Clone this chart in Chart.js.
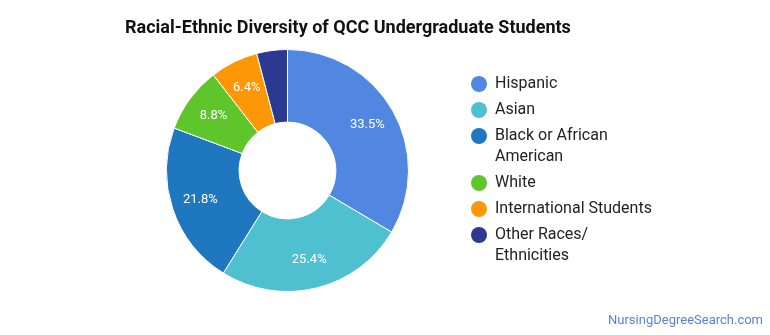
<!DOCTYPE html>
<html>
<head>
<meta charset="utf-8">
<script src="https://cdn.jsdelivr.net/npm/chart.js@4.4.1/dist/chart.umd.min.js"></script>
<style>
  html, body { margin: 0; padding: 0; background: #fff; }
  #wrap { width: 770px; height: 335px; position: relative; }
</style>
</head>
<body>
<div id="wrap"><canvas id="diversityChart" width="770" height="335"></canvas></div>
<script>
const chartTitle = 'Racial-Ethnic Diversity of QCC Undergraduate Students';
const groups = ['Hispanic', 'Asian', 'Black or African American', 'White', 'International Students', 'Other Races/ Ethnicities'];
const legendLines = [['Hispanic'], ['Asian'], ['Black or African', 'American'], ['White'], ['International Students'], ['Other Races/', 'Ethnicities']];
const shares = [33.5, 25.4, 21.8, 8.8, 6.4, 4.1];
const colors = ['#5186e1', '#4ec0d0', '#1f77c0', '#5ec62a', '#fd9706', '#2b3990'];

const FONT = 'Roboto, "Noto Sans", sans-serif';

// percent labels inside slices, legend, title and site name
const extrasPlugin = {
  id: 'extras',
  afterDraw(chart) {
    const ctx = chart.ctx;
    ctx.save();

    ctx.fillStyle = '#111';
    ctx.font = 'bold 18px ' + FONT;
    ctx.textBaseline = 'middle';
    ctx.textAlign = 'left';
    ctx.fillText(chartTitle, 125, 28);

    const meta = chart.getDatasetMeta(0);
    ctx.fillStyle = '#fff';
    ctx.font = '13px ' + FONT;
    ctx.textAlign = 'center';
    meta.data.forEach((arc, i) => {
      if (shares[i] < 5) return;
      const p = arc.getProps(['x', 'y', 'startAngle', 'endAngle', 'innerRadius', 'outerRadius'], true);
      const mid = (p.startAngle + p.endAngle) / 2;
      const r = p.innerRadius + (p.outerRadius - p.innerRadius) * 0.6;
      ctx.fillText(shares[i].toFixed(1) + '%', p.x + Math.cos(mid) * r, p.y + Math.sin(mid) * r);
    });

    ctx.textAlign = 'left';
    ctx.font = '16px ' + FONT;
    let y = 84;
    legendLines.forEach((lines, i) => {
      ctx.fillStyle = colors[i];
      ctx.beginPath();
      ctx.arc(479, y, 8, 0, Math.PI * 2);
      ctx.fill();
      ctx.fillStyle = '#222';
      lines.forEach((t, k) => ctx.fillText(t, 495, y + k * 21));
      y += 26 + (lines.length - 1) * 21;
    });

    ctx.fillStyle = '#5b80d6';
    ctx.font = '13px ' + FONT;
    ctx.textAlign = 'right';
    ctx.fillText('NursingDegreeSearch.com', 763, 321);
    ctx.restore();
  }
};

new Chart(document.getElementById('diversityChart'), {
  type: 'doughnut',
  data: {
    labels: groups,
    datasets: [{
      data: shares,
      backgroundColor: colors,
      borderColor: '#fff',
      borderWidth: 1
    }]
  },
  options: {
    responsive: false,
    animation: false,
    cutout: '40%',
    layout: { padding: { left: 166, right: 361, top: 49, bottom: 43 } },
    plugins: {
      legend: { display: false },
      tooltip: { enabled: false }
    }
  },
  plugins: [extrasPlugin]
});
</script>
</body>
</html>
